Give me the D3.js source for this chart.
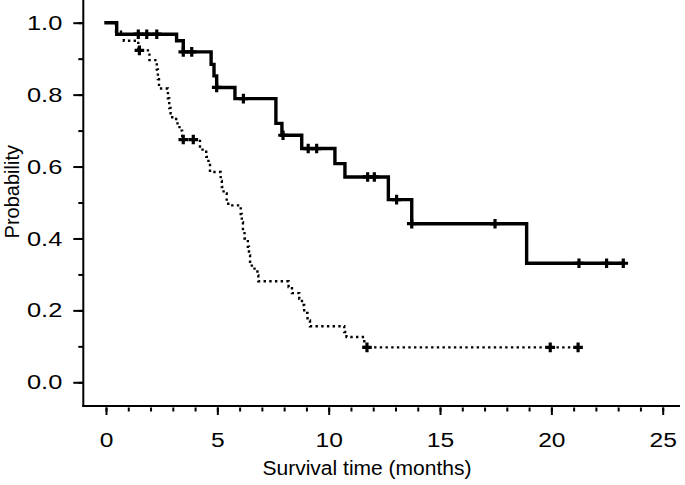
<!DOCTYPE html>
<html><head><meta charset="utf-8">
<script src="https://cdn.jsdelivr.net/npm/d3@7"></script>
<style>
body{margin:0;background:#fff}
svg{display:block}
text{font-family:"Liberation Sans",Arial,Helvetica,sans-serif;fill:#000}
</style>
</head><body>
<svg id="c" width="685" height="485"></svg>
<script>
// ---- data ----
const xTickValues = [0, 5, 10, 15, 20, 25];
const yTickValues = [0.0, 0.2, 0.4, 0.6, 0.8, 1.0];
const xLabel = "Survival time (months)";
const yLabel = "Probability";

// group A (solid line): step start times and survival
const groupATimes = [0, 0.48, 3.17, 3.47, 4.72, 4.85, 4.97, 5.79, 7.63, 7.9, 8.79, 10.28, 10.73, 12.68, 13.73, 18.89];
const groupASurv  = [1.0, 0.968, 0.95, 0.919, 0.884, 0.852, 0.82, 0.789, 0.72, 0.687, 0.65, 0.608, 0.571, 0.508, 0.441, 0.331];
const groupAEnd = 23.23;
const groupACensorTimes = [1.45, 1.83, 2.28, 3.47, 3.85, 4.97, 6.17, 7.95, 9.08, 9.46, 11.75, 12.05, 13.05, 13.73, 17.47, 21.24, 22.48, 23.23];
const groupACensorSurv  = [0.968, 0.968, 0.968, 0.919, 0.919, 0.82, 0.789, 0.687, 0.65, 0.65, 0.571, 0.571, 0.508, 0.441, 0.441, 0.331, 0.331, 0.331];

// group B (dotted line)
const groupBTimes = [0, 0.45, 0.8, 1.45, 1.95, 2.28, 2.33, 2.38, 2.78, 2.84, 2.9, 3.15, 3.3, 3.42, 4.22, 4.5, 4.6, 4.67, 5.15, 5.2, 5.28, 5.42, 5.49, 6.05, 6.1, 6.15, 6.22, 6.37, 6.42, 6.47, 6.55, 6.8, 6.84, 8.2, 8.35, 8.68, 8.8, 8.9, 9.05, 9.16, 10.7, 10.8, 11.6];
const groupBSurv  = [1.0, 0.975, 0.95, 0.923, 0.896, 0.87, 0.843, 0.817, 0.79, 0.763, 0.737, 0.72, 0.70, 0.675, 0.647, 0.627, 0.608, 0.585, 0.56, 0.543, 0.525, 0.508, 0.492, 0.468, 0.445, 0.422, 0.40, 0.377, 0.353, 0.33, 0.316, 0.298, 0.281, 0.265, 0.248, 0.232, 0.215, 0.193, 0.172, 0.156, 0.14, 0.126, 0.097];
const groupBEnd = 21.2;
const groupBCensorTimes = [1.5, 3.47, 3.92, 11.72, 19.95, 21.2];
const groupBCensorSurv  = [0.923, 0.675, 0.675, 0.097, 0.097, 0.097];

// ---- drawing ----
const svg = d3.select("#c");
const x = d3.scaleLinear().domain([0, 25]).range([106, 662.7]);
const y = d3.scaleLinear().domain([0, 1]).range([382.3, 22.7]);
const axisX0 = 83.3, axisY0 = 406;

// axis lines
svg.append("line").attr("x1", axisX0).attr("x2", axisX0).attr("y1", 0).attr("y2", axisY0 + 1)
  .attr("stroke", "#000").attr("stroke-width", 2);
svg.append("line").attr("x1", axisX0 - 1).attr("x2", 680).attr("y1", axisY0).attr("y2", axisY0)
  .attr("stroke", "#000").attr("stroke-width", 2);

function stretch(sel, f) {
  sel.each(function () {
    const w = this.getComputedTextLength();
    d3.select(this).attr("textLength", w * f).attr("lengthAdjust", "spacingAndGlyphs");
  });
}

// y axis: minor then major
const yMinor = svg.append("g").attr("transform", `translate(${axisX0},0)`)
  .call(d3.axisLeft(y).tickValues(d3.range(0, 11).map(i => i / 10)).tickSize(5).tickFormat(""));
const yMajor = svg.append("g").attr("transform", `translate(${axisX0},0)`)
  .call(d3.axisLeft(y).tickValues(yTickValues).tickSize(10).tickPadding(11).tickFormat(d3.format(".1f")));
[yMinor, yMajor].forEach(g => {
  g.select(".domain").remove();
  g.selectAll("line").attr("stroke", "#000").attr("stroke-width", 2);
  g.attr("font-family", null).attr("font-size", null);
});
yMajor.selectAll("text").style("font-size", "20.5px");
stretch(yMajor.selectAll("text"), 1.24);

// x axis
const xTop = axisY0 + 1.5;
const xMinor = svg.append("g").attr("transform", `translate(0,${xTop})`)
  .call(d3.axisBottom(x).tickValues(d3.range(0, 26)).tickSize(4).tickFormat(""));
const xMajor = svg.append("g").attr("transform", `translate(0,${xTop})`)
  .call(d3.axisBottom(x).tickValues(xTickValues).tickSize(7.5).tickPadding(17).tickFormat(d3.format("d")));
[xMinor, xMajor].forEach(g => {
  g.select(".domain").remove();
  g.selectAll("line").attr("stroke", "#000").attr("stroke-width", 2);
  g.attr("font-family", null).attr("font-size", null);
});
xMajor.selectAll("text").style("font-size", "20.5px");
stretch(xMajor.selectAll("text"), 1.2);

// titles
const xt = svg.append("text").attr("x", 367).attr("y", 475).attr("text-anchor", "middle")
  .style("font-size", "20.5px").text(xLabel);
xt.attr("textLength", 209).attr("lengthAdjust", "spacingAndGlyphs");
svg.append("text").attr("transform", `translate(18.5,${y(0.53)}) rotate(-90)`).attr("text-anchor", "middle")
  .style("font-size", "20px").text(yLabel);

// curves
function stepPoints(times, surv, end) {
  const pts = times.map((t, i) => [t, surv[i]]);
  pts.push([end, surv[surv.length - 1]]);
  return pts;
}
const line = d3.line().x(d => x(d[0])).y(d => y(d[1])).curve(d3.curveStepAfter);

svg.append("path").datum(stepPoints(groupBTimes, groupBSurv, groupBEnd))
  .attr("d", line).attr("fill", "none").attr("stroke", "#000")
  .attr("stroke-width", 2.4).attr("stroke-dasharray", "2.4 3.3");

svg.append("path").datum(stepPoints(groupATimes, groupASurv, groupAEnd))
  .attr("d", line).attr("fill", "none").attr("stroke", "#000")
  .attr("stroke-width", 3.4).attr("stroke-linejoin", "miter").attr("stroke-linecap", "square");

function censor(times, surv) {
  const data = times.map((t, i) => [t, surv[i]]);
  const g = svg.append("g");
  g.selectAll("path").data(data).join("path")
    .attr("d", d => {
      const cx = x(d[0]), cy = y(d[1]), a = 4.8;
      return `M${cx - a},${cy}H${cx + a}M${cx},${cy - a}V${cy + a}`;
    })
    .attr("stroke", "#000").attr("stroke-width", 3.2).attr("fill", "none");
}
censor(groupACensorTimes, groupACensorSurv);
censor(groupBCensorTimes, groupBCensorSurv);
</script>
</body></html>
